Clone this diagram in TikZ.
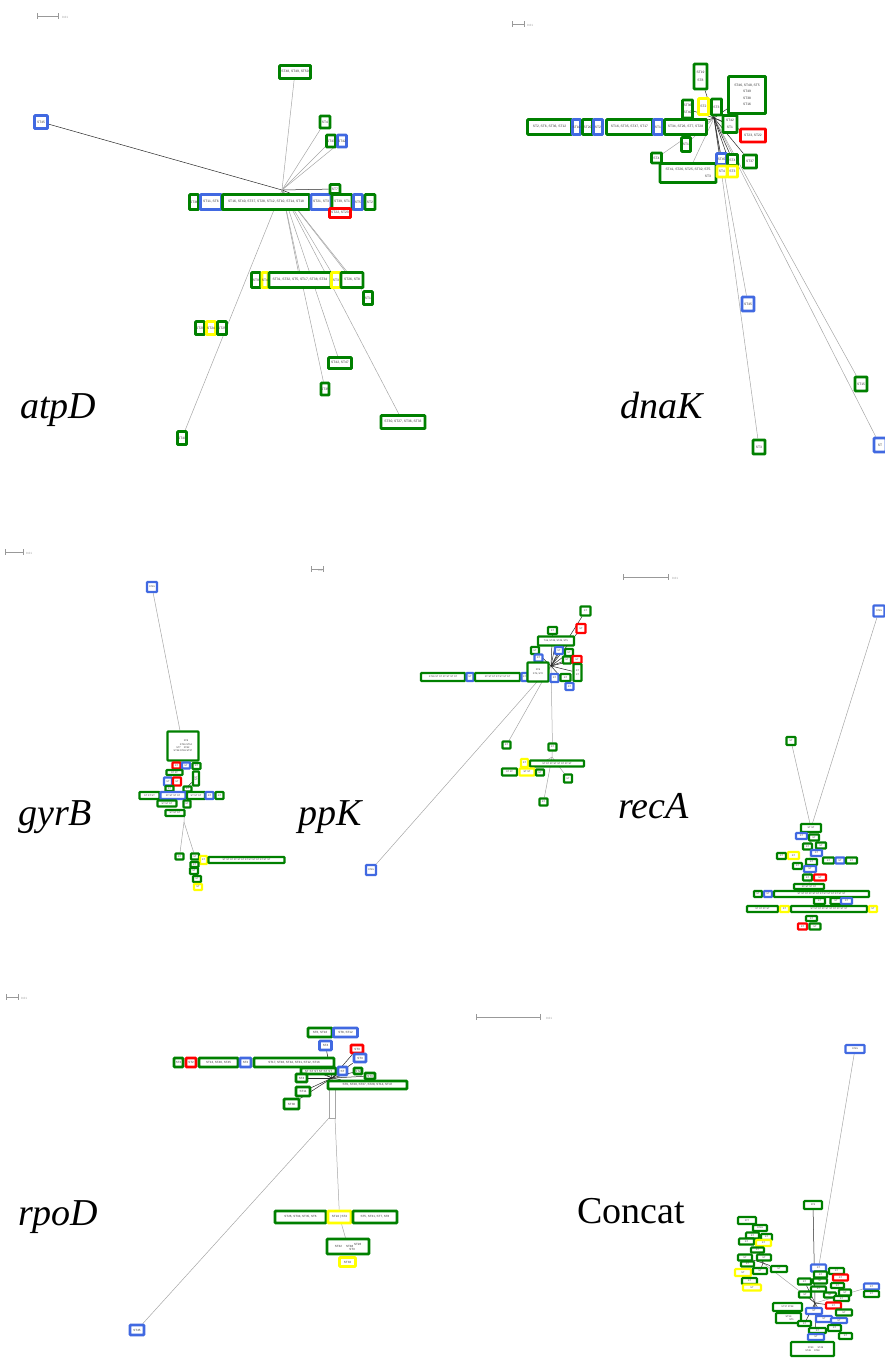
\documentclass[tikz,border=0pt]{standalone}
\usepackage{fontspec}
\setmainfont{Liberation Serif}
\newfontfamily\boxfont{Liberation Sans}
\definecolor{G}{RGB}{0,128,0}
\definecolor{B}{RGB}{65,105,225}
\definecolor{R}{RGB}{255,0,0}
\definecolor{Y}{RGB}{255,255,0}
\pgfdeclarelayer{bg}
\pgfsetlayers{bg,main}
\def\bxw{2.9pt}
\def\bxfs{3.3}
\tikzset{
  bx/.style={rectangle,rounded corners=0.8pt,line width=\bxw,fill=white,inner sep=0pt,
    text=black!80,align=center,font=\boxfont\fontsize{\bxfs}{\bxfs}\selectfont},
  edge/.style={draw=black!35,line width=0.5pt},
  dedge/.style={draw=black!85,line width=0.5pt},
  lab/.style={anchor=base west,inner sep=0pt,font=\fontsize{38}{40}\selectfont\itshape},
  scl/.style={draw=black!40,line width=0.5pt,|-|},
  scltxt/.style={anchor=west,inner sep=0pt,text=black!40,font=\boxfont\fontsize{3}{3}\selectfont}
}
\newcommand\bx[7]{\node[bx,draw=#6,minimum width=#4pt,minimum height=#5pt] (#1) at (#2,#3) {#7};}
\begin{document}
\begin{tikzpicture}[x=1pt,y=-1pt]
\useasboundingbox (0,0) rectangle (884,1358);

% ================= atpD =================
\coordinate (sa1) at (37,16); \coordinate (sa2) at (58,16);
\draw[scl] (sa1) -- (sa2); \node[scltxt] (sat) at (62,17) {0.01};
\node[lab] (latp) at (20,418) {atpD};
\coordinate (A) at (282,190);
\bx{a45}{41}{122}{13}{13}{B}{ST45}
\bx{a48}{295}{72}{31}{13}{G}{ST48, ST49, ST50}
\bx{a4t}{325}{122}{10}{12}{G}{ST4}
\bx{a43}{331}{141}{9}{12}{G}{ST43}
\bx{a42}{342}{141}{9}{12}{B}{ST42}
\bx{a36}{194}{202}{9}{15}{G}{ST36}
\bx{a11}{211}{202}{21}{15}{B}{ST11, ST6}
\bx{a16}{266}{202}{87}{15}{G}{ST16, ST40, ST37, ST28, ST12, ST10, ST14, ST18}
\bx{a21}{321}{202}{20}{15}{B}{ST21, ST3}
\bx{a39}{342}{202}{20}{15}{G}{ST39, ST1}
\bx{a5}{358}{202}{9}{15}{B}{ST5}
\bx{a2}{370}{202}{10}{15}{G}{ST2}
\bx{a7}{335}{189}{10}{9}{G}{ST7}
\bx{a22}{340}{213}{21}{9}{R}{ST22, ST23}
\bx{b9}{256}{280}{9}{15}{G}{ST9}
\bx{b4}{265}{280}{6}{15}{Y}{ST4}
\bx{b31}{300}{280}{62}{15}{G}{ST31, ST32, ST5, ST17, ST38, ST34}
\bx{b3}{336}{280}{9}{15}{Y}{ST3}
\bx{b26}{352}{280}{22}{15}{G}{ST26, ST8}
\bx{b1}{368}{298}{9}{13}{G}{ST1}
\bx{c29}{200}{328}{9}{13}{G}{ST29}
\bx{c24}{211}{328}{9}{13}{Y}{ST24}
\bx{c25}{222}{328}{9}{13}{G}{ST25}
\bx{c42}{340}{363}{23}{11}{G}{ST42, ST47}
\bx{c35}{325}{389}{8}{12}{G}{ST35}
\bx{c30}{403}{422}{44}{13}{G}{ST30, ST27, ST36, ST33}
\bx{c41}{182}{438}{9}{13}{G}{ST41}
\begin{pgfonlayer}{bg}
\draw[dedge] (A) -- (a45);
\draw[dedge] (A) -- (a7);
\draw[dedge] (A) -- (a22);
\foreach \n in {a48,a4t,a43,a42,b31,b26,b1,c41,c42,c35,c30,b3}
  \draw[edge] (A) -- (\n);
\end{pgfonlayer}

% ================= dnaK =================
\coordinate (sd1) at (512,24); \coordinate (sd2) at (524,24);
\draw[scl] (sd1) -- (sd2); \node[scltxt] (sdt) at (527,25) {0.01};
\node[lab] (ldna) at (620,418) {dnaK};
\coordinate (D) at (714,118);
\bx{d19}{700.5}{76.5}{13}{25}{G}{ST19\\[4pt]ST8}
\bx{d46}{747}{95}{37}{37}{G}{ST46, ST48, ST5\\[3pt]ST49\hspace{14pt}\\[3pt]ST38\hspace{14pt}\\[3pt]ST16\hspace{14pt}}
\bx{d36}{687.5}{109}{10}{18}{G}{ST36\\[3pt]ST40}
\bx{d2y}{703.5}{106.5}{10}{16}{Y}{ST2}
\bx{d3}{716.5}{107}{10}{16}{G}{ST3}
\bx{d2}{549.5}{127}{44}{15}{G}{ST2, ST6, ST36, ST12}
\bx{d10}{576.5}{127}{8}{15}{B}{ST10}
\bx{d20}{587.5}{127}{10}{15}{G}{ST20}
\bx{d2b}{598}{127}{9}{15}{B}{ST2}
\bx{d16}{629.5}{127}{46}{15}{G}{ST16, ST35, ST47, ST17}
\bx{d1}{658}{127}{9}{15}{B}{ST1}
\bx{d34}{685.5}{127}{42}{15}{G}{ST34, ST26, ST7, ST28}
\bx{d42}{730}{124}{14}{17}{G}{ST42\\[3pt]ST1}
\bx{d23}{753}{135.5}{25}{13}{R}{ST23, ST22}
\bx{dq1}{686}{144.5}{9}{14}{G}{ST1}
\bx{d4l}{656.5}{158}{10}{10}{G}{ST4}
\bx{d41}{688}{173}{56}{19}{G}{ST41, ST26, ST25, ST32, ST5\\[3pt]\hspace{40pt}ST3}
\bx{d45s}{721.5}{159}{10}{11}{B}{ST45}
\bx{d4g}{732.5}{160}{10}{11}{G}{ST4}
\bx{d4y}{722}{171.5}{10}{11}{Y}{ST4}
\bx{d3y}{732.5}{171.5}{10}{11}{Y}{ST3}
\bx{d37}{750}{161.5}{13}{13}{G}{ST37}
\bx{d45f}{748}{304}{12}{14}{B}{ST45}
\bx{d15}{861}{384}{12}{14}{G}{ST15}
\bx{d3f}{759}{447}{12}{14}{G}{ST3}
\bx{dxf}{880}{445}{12}{14}{B}{ST}
\begin{pgfonlayer}{bg}
\foreach \n in {d45f,d3f,d15,dxf,d41,d4l,dq1}
  \draw[edge] (D) -- (\n);
\foreach \n in {d19,d46,d36,d2y,d3,d42,d23,d34,d37,d45s,d4g,d4y,d3y}
  \draw[dedge] (D) -- (\n);
\end{pgfonlayer}

% ================= gyrB =================
\def\bxw{2.3pt}\def\bxfs{2.4}
\coordinate (sg1) at (5,552); \coordinate (sg2) at (23,552);
\draw[scl] (sg1) -- (sg2); \node[scltxt] (sgt) at (26,553) {0.01};
\node[lab] (lgyr) at (18,825) {gyrB};
\coordinate (g1) at (186,788);
\coordinate (g2) at (184,822);
\bx{g45}{152}{587}{10}{10}{B}{ST45}
\bx{gbig}{183}{746}{31}{29}{G}{\hspace{6pt}ST8\\[1pt]\hspace{6pt}ST16 ST14\\[1pt]ST7\hspace{3pt}ST42\hspace{6pt}\\[1pt]ST38 ST36 ST37}
\bx{gr1}{176.5}{765.5}{8}{6}{R}{ST}
\bx{gb1}{186}{765.5}{8}{6}{B}{ST}
\bx{gg1}{196.5}{766}{8}{6}{G}{ST}
\bx{gg2}{174.5}{772.5}{16}{5}{G}{ST ST}
\bx{gg3}{196}{778.5}{6}{14}{G}{ST\\ST}
\bx{gb2}{168}{781.5}{8}{8}{B}{ST}
\bx{gr2}{177}{781.5}{8}{8}{R}{ST}
\bx{gg4}{169.5}{788.5}{8}{5}{G}{ST}
\bx{gg5}{187.5}{789}{8}{5}{G}{ST}
\bx{gg6}{149.5}{795.5}{20}{7}{G}{ST ST ST}
\bx{gb3}{173}{795.5}{25}{7}{B}{ST ST ST ST}
\bx{gg7}{196}{795.5}{18}{7}{G}{ST ST ST}
\bx{gb4}{209.5}{795.5}{8}{7}{B}{ST}
\bx{gg8}{219.5}{795.5}{8}{7}{G}{ST}
\bx{gg9}{167}{803.5}{19}{6}{G}{ST ST ST}
\bx{gg10}{187}{804}{7}{7}{G}{ST}
\bx{gg11}{175}{813}{19}{6}{G}{ST ST ST}
\bx{gh1}{179.5}{856.5}{8}{6}{G}{ST}
\bx{gh2}{195}{856.5}{8}{6}{G}{ST}
\bx{gy1}{203.5}{860}{7}{8}{Y}{ST}
\bx{gh3}{246.5}{860}{76}{6}{G}{ST ST ST ST ST ST ST ST ST ST ST ST ST}
\bx{gh4}{194.5}{864.5}{8}{5}{G}{ST}
\bx{gh5}{194}{871}{8}{6}{G}{ST}
\bx{gh6}{197}{879}{8}{6}{G}{ST}
\bx{gy2}{198}{887}{8}{6}{Y}{ST}
\begin{pgfonlayer}{bg}
\draw[edge] (g45) -- (gbig);
\draw[edge] (g1) -- (g2);
\draw[edge] (g2) -- (gh1);
\draw[edge] (g2) -- (gh2);
\draw[dedge] (g1) -- (gg3);
\end{pgfonlayer}

% ================= ppK =================
\coordinate (sp1) at (311,569); \coordinate (sp2) at (323,569);
\draw[scl] (sp1) -- (sp2); \node[scltxt] (spt) at (318,570) {0.01};
\node[lab] (lppk) at (298,825) {ppK};
\coordinate (P) at (551,666);
\coordinate (P2) at (552,757);
\bx{p1}{585.5}{611}{10}{9}{G}{ST}
\bx{p2}{581}{628.5}{9}{9}{R}{ST}
\bx{p3}{552.5}{630.5}{9}{7}{G}{ST}
\bx{p4}{556}{641}{36}{9}{G}{T46, ST48, ST49, ST5}
\bx{p5}{535}{650.5}{8}{7}{G}{ST}
\bx{p6}{559}{650.5}{8}{7}{B}{ST}
\bx{p7}{569}{652.5}{8}{7}{G}{ST}
\bx{p8}{538.5}{658}{8}{7}{B}{ST}
\bx{p9}{567}{660}{8}{7}{G}{ST}
\bx{p10}{577}{659.5}{9}{7}{R}{ST}
\bx{p11}{443}{677}{44}{8}{G}{ST26 ST ST ST ST ST ST}
\bx{p12}{470}{677}{7}{8}{B}{ST}
\bx{p13}{497.5}{677}{45}{8}{G}{ST ST ST ST ST ST ST}
\bx{p14}{524.5}{677}{6}{8}{B}{ST}
\bx{p15}{538}{672}{21}{19}{G}{ST6\\[2pt]ST4, ST2}
\bx{p16}{554.5}{678}{8}{8}{B}{ST}
\bx{p17}{565.5}{677.5}{10}{7}{G}{ST}
\bx{p18}{577.5}{672.5}{8}{17}{G}{ST\\[2pt]ST}
\bx{p19}{569.5}{686.5}{8}{7}{B}{ST}
\bx{p20}{506.5}{745}{8}{7}{G}{ST}
\bx{p21}{552.5}{747}{8}{7}{G}{ST}
\bx{p22}{524.5}{763}{7}{8}{Y}{ST}
\bx{p23}{557}{763.5}{54}{6}{G}{ST ST ST ST ST ST ST ST}
\bx{p24}{509.5}{772}{15}{7}{G}{ST ST}
\bx{p25}{527}{772}{15}{7}{Y}{ST ST}
\bx{p26}{540}{772.5}{8}{6}{G}{ST}
\bx{p27}{568}{778.5}{8}{8}{G}{ST}
\bx{p28}{543.5}{802}{8}{7}{G}{ST}
\bx{p29}{371}{870}{10}{10}{B}{ST45}
\begin{pgfonlayer}{bg}
\draw[edge] (P) -- (p29);
\draw[edge] (P) -- (p20);
\draw[edge] (P) -- (p21);
\draw[edge] (p21) -- (P2);
\draw[edge] (P2) -- (p27);
\draw[edge] (P2) -- (p28);
\draw[edge] (P2) -- (p25);
\foreach \n in {p1,p2,p3,p4,p5,p6,p7,p9,p10,p18,p19}
  \draw[dedge] (P) -- (\n);
\end{pgfonlayer}

% ================= recA =================
\coordinate (sr1) at (623,577); \coordinate (sr2) at (668,577);
\draw[scl] (sr1) -- (sr2); \node[scltxt] (srt) at (672,578) {0.01};
\node[lab] (lrec) at (618,818) {recA};
\bx{r0}{879}{611}{11}{11}{B}{ST45}
\bx{r00}{791}{741}{9}{8}{G}{ST}
\bx{r1}{811}{828}{20}{8}{G}{ST ST}
\bx{r2}{801.5}{836}{11}{6}{B}{ST}
\bx{r3}{814}{837.5}{10}{6}{G}{ST}
\bx{r4}{807.5}{846.5}{9}{6}{G}{ST}
\bx{r5}{821}{845.5}{10}{6}{G}{ST}
\bx{r6}{816.5}{853}{11}{6}{B}{ST}
\bx{r7}{781.5}{856}{9}{6}{G}{ST}
\bx{r8}{793.5}{855.5}{11}{7}{Y}{ST}
\bx{r9}{811.5}{862}{11}{6}{G}{ST}
\bx{r10}{828.5}{860.5}{11}{6}{G}{ST}
\bx{r11}{840}{860.5}{9}{6}{B}{ST}
\bx{r12}{851.5}{860.5}{11}{6}{G}{ST}
\bx{r13}{797.5}{866}{9}{6}{G}{ST}
\bx{r14}{810}{869}{12}{6}{B}{ST}
\bx{r15}{807.5}{877.5}{9}{6}{G}{ST}
\bx{r16}{820}{877.5}{12}{6}{R}{ST}
\bx{r17}{809}{886.5}{30}{5}{G}{ST ST ST ST}
\bx{r18}{758}{894}{8}{6}{G}{ST}
\bx{r19}{768}{894}{8}{6}{B}{ST}
\bx{r20}{821.5}{894}{95}{6}{G}{ST ST ST ST ST ST ST ST ST ST ST ST ST}
\bx{r21}{819.5}{901}{11}{6}{G}{ST}
\bx{r22}{836}{901}{11}{6}{G}{ST}
\bx{r23}{846.5}{901}{11}{6}{B}{ST}
\bx{r24}{762.5}{909}{31}{6}{G}{ST ST ST ST}
\bx{r25}{784.5}{909}{9}{6}{Y}{ST}
\bx{r26}{829}{909}{76}{6}{G}{ST ST ST ST ST ST ST ST ST ST}
\bx{r27}{873}{909}{8}{6}{Y}{ST}
\bx{r28}{811.5}{918.5}{11}{5}{G}{ST}
\bx{r29}{802.5}{926.5}{9}{6}{R}{ST}
\bx{r30}{815}{926.5}{11}{6}{G}{ST}
\begin{pgfonlayer}{bg}
\draw[edge] (r0) -- (r1);
\draw[edge] (r00) -- (r1);
\draw[edge] (r1) -- (r17);
\end{pgfonlayer}

% ================= rpoD =================
\def\bxw{2.6pt}\def\bxfs{3.0}
\coordinate (so1) at (6,997); \coordinate (so2) at (18,997);
\draw[scl] (so1) -- (so2); \node[scltxt] (sot) at (21,998) {0.01};
\node[lab] (lrpo) at (18,1225) {rpoD};
\coordinate (Rh) at (332,1078);
\coordinate (v1) at (329,1084); \coordinate (v2) at (335,1084);
\coordinate (v3) at (329,1118); \coordinate (v4) at (335,1118);
\bx{o1}{320}{1032.5}{24}{9}{G}{ST6, ST16}
\bx{o2}{345.5}{1032.5}{24}{9}{B}{ST8, ST12}
\bx{o3}{325.5}{1045.5}{12}{9}{B}{ST4}
\bx{o4}{357}{1049}{12}{8}{R}{ST3}
\bx{o5}{360}{1058}{12}{8}{B}{ST3}
\bx{o6}{178.5}{1062.5}{9}{9}{G}{ST2}
\bx{o7}{191}{1062.5}{10}{9}{R}{ST2}
\bx{o8}{218.5}{1062.5}{39}{9}{G}{ST13, ST40, ST45}
\bx{o9}{245.5}{1062.5}{11}{9}{B}{ST2}
\bx{o10}{294}{1062.5}{80}{9}{G}{ST17, ST46, ST44, ST31, ST12, ST16}
\bx{o11}{318.5}{1071}{35}{6}{G}{ST ST ST ST ST ST}
\bx{o12}{342.5}{1071}{9}{8}{B}{ST}
\bx{o13}{358}{1071}{8}{6}{G}{ST2}
\bx{o14}{370}{1076}{10}{6}{G}{ST3}
\bx{o15}{301.5}{1078}{11}{8}{G}{ST4}
\bx{o16}{367.5}{1085}{79}{8}{G}{ST9, ST20, ST37, ST28, ST14, ST47}
\bx{o17}{303}{1091.5}{14}{9}{G}{ST11}
\bx{o18}{291.5}{1104}{15}{10}{G}{ST30}
\bx{o19}{300.5}{1217}{51}{12}{G}{ST26, ST34, ST35, ST6}
\bx{o20}{339.5}{1217}{23}{12}{Y}{ST24 | ST4}
\bx{o21}{375}{1217}{44}{12}{G}{ST5, ST31, ST7, ST8}
\bx{o22}{348}{1246.5}{42}{15}{G}{ST32\hspace{4pt}ST48 \raisebox{2pt}{ST26}\\[0pt]\hspace{8pt}ST3}
\bx{o23}{347.5}{1262}{16}{9}{Y}{ST33}
\bx{o24}{137}{1330}{14}{10}{B}{ST45}
\begin{pgfonlayer}{bg}
\draw[edge] (v1) -- (v3) -- (v4) -- (v2);
\draw[edge] (v1) -- (Rh) -- (v2);
\draw[edge] (v3) -- (o24);
\draw[edge] (v4) -- (o20);
\draw[edge] (o20) -- (o22);
\foreach \n in {o3,o4,o5,o10,o11,o12,o13,o14,o15,o16,o17,o18}
  \draw[dedge] (Rh) -- (\n);
\end{pgfonlayer}

% ================= Concat =================
\def\bxw{2.2pt}\def\bxfs{2.4}
\coordinate (sc1) at (476,1017); \coordinate (sc2) at (540,1017);
\draw[scl] (sc1) -- (sc2); \node[scltxt] (sct) at (546,1018) {0.01};
\node[lab,font=\fontsize{38}{40}\selectfont] (lcon) at (577,1223) {Concat};
\coordinate (CL) at (763,1263);
\coordinate (CC) at (815,1303);
\bx{k45}{855}{1049}{19}{8}{B}{ST45}
\bx{k3}{813}{1205}{18}{8}{G}{ST3}
\bx{k1}{747}{1220.5}{18}{7}{G}{ST7}
\bx{k2}{760}{1228}{14}{6}{G}{ST26}
\bx{k4}{752.5}{1235.5}{13}{6}{G}{ST}
\bx{k5}{766.5}{1237}{11}{6}{G}{ST}
\bx{k6}{746.5}{1241.5}{15}{6}{G}{ST}
\bx{k7}{763.5}{1243}{15}{6}{Y}{ST}
\bx{k8}{757.5}{1250}{13}{5}{G}{ST}
\bx{k9}{745}{1257.5}{14}{6}{G}{ST}
\bx{k10}{764}{1257.5}{14}{6}{G}{ST}
\bx{k11}{747.5}{1264}{13}{5}{G}{ST}
\bx{k12}{743}{1272.5}{16}{7}{Y}{ST}
\bx{k13}{760}{1271}{14}{6}{G}{ST}
\bx{k14}{779}{1269}{16}{6}{G}{ST}
\bx{k15}{749.5}{1281}{15}{6}{G}{ST}
\bx{k16}{752}{1287.5}{18}{6}{Y}{ST}
\bx{k17}{818.5}{1268}{15}{7}{B}{ST}
\bx{k18}{836.5}{1271}{15}{6}{G}{ST}
\bx{k19}{840.5}{1277.5}{15}{6}{R}{ST}
\bx{k20}{820.5}{1274.5}{13}{6}{G}{ST}
\bx{k21}{804.5}{1281.5}{13}{6}{G}{ST}
\bx{k22}{820}{1281}{14}{5}{G}{ST}
\bx{k23}{837.5}{1285.5}{13}{5}{G}{ST}
\bx{k24}{805}{1294.5}{12}{6}{G}{ST}
\bx{k25}{818.5}{1289}{15}{5}{G}{ST}
\bx{k26}{830}{1295}{12}{5}{G}{ST}
\bx{k27}{845}{1292.5}{12}{6}{G}{ST}
\bx{k28}{841.5}{1298.5}{15}{5}{G}{ST}
\bx{k29}{833.5}{1305.5}{15}{6}{R}{ST}
\bx{k30}{787.5}{1307}{29}{8}{G}{ST37 ST38}
\bx{k31}{814}{1311}{16}{6}{B}{ST}
\bx{k32}{844}{1312.5}{16}{6}{G}{ST}
\bx{k33}{788.5}{1318}{25}{10}{G}{ST39\\[1pt]\hspace{6pt}ST1}
\bx{k34}{824}{1319}{16}{6}{B}{ST}
\bx{k35}{839}{1320.5}{16}{5}{B}{ST}
\bx{k36}{804.5}{1323.5}{13}{5}{G}{ST}
\bx{k37}{817.5}{1330.5}{17}{5}{G}{ST}
\bx{k38}{834.5}{1328}{13}{6}{G}{ST}
\bx{k39}{845.5}{1336}{13}{6}{G}{ST}
\bx{k40}{816}{1337}{16}{6}{B}{ST}
\bx{k41}{812.5}{1349}{43}{14}{G}{\hspace{6pt}ST40\hspace{4pt}ST48\\[1pt]ST49\hspace{3pt}ST50}
\bx{k42}{871.5}{1286.5}{15}{6}{B}{ST}
\bx{k43}{871.5}{1294}{15}{6}{G}{ST}
\begin{pgfonlayer}{bg}
\draw[edge] (k45) -- (k17);
\draw[dedge] (k3) -- (CC);
\draw[edge] (CL) -- (CC);
\draw[edge] (CC) -- (k42);
\foreach \n in {k21,k24,k31,k29,k34,k36,k40}
  \draw[dedge] (CC) -- (\n);
\foreach \n in {k4,k9,k10,k13,k14}
  \draw[dedge] (CL) -- (\n);
\end{pgfonlayer}
\end{tikzpicture}
\end{document}
